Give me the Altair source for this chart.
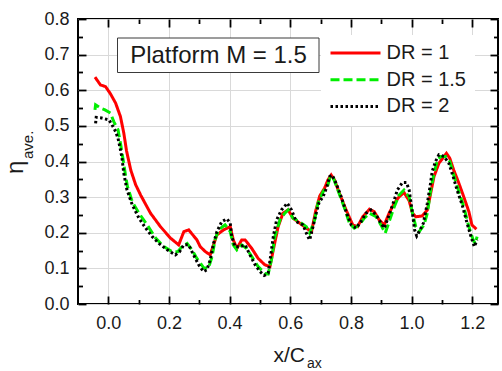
import altair as alt
import pandas as pd

# Area-averaged film cooling effectiveness along the platform, three density ratios
series_names = ["DR = 1", "DR = 1.5", "DR = 2"]
series_colors = ["#ff0000", "#00ee00", "#000000"]
series_dashes = [[1, 0], [9, 4], [2.5, 2.5]]

dr1_x = [-0.044, -0.026, -0.009, 0.007, 0.024, 0.040, 0.051, 0.060, 0.074, 0.090,
         0.107, 0.139, 0.172, 0.205, 0.232, 0.249, 0.265, 0.292, 0.303, 0.320,
         0.336, 0.358, 0.380, 0.402, 0.412, 0.424, 0.440, 0.451, 0.473, 0.494,
         0.516, 0.533, 0.544, 0.560, 0.576, 0.593, 0.609, 0.631, 0.653, 0.670,
         0.684, 0.697, 0.713, 0.724, 0.735, 0.746, 0.762, 0.784, 0.806, 0.822,
         0.839, 0.861, 0.877, 0.893, 0.910, 0.926, 0.943, 0.959, 0.975, 0.992,
         1.003, 1.014, 1.035, 1.052, 1.063, 1.074, 1.090, 1.107, 1.115, 1.126,
         1.139, 1.156, 1.172, 1.189, 1.199, 1.214]
dr1_y = [0.637, 0.615, 0.610, 0.590, 0.564, 0.526, 0.480, 0.430, 0.376, 0.335,
         0.305, 0.255, 0.217, 0.185, 0.166, 0.203, 0.208, 0.180, 0.161, 0.147,
         0.138, 0.194, 0.208, 0.217, 0.180, 0.156, 0.180, 0.180, 0.156, 0.128,
         0.110, 0.105, 0.152, 0.217, 0.255, 0.264, 0.241, 0.227, 0.213, 0.203,
         0.262, 0.303, 0.325, 0.348, 0.362, 0.348, 0.311, 0.264, 0.222, 0.217,
         0.245, 0.266, 0.259, 0.236, 0.222, 0.255, 0.283, 0.301, 0.313, 0.290,
         0.255, 0.245, 0.247, 0.264, 0.311, 0.358, 0.395, 0.414, 0.423, 0.409,
         0.376, 0.339, 0.301, 0.259, 0.222, 0.210]

dr15_x = [-0.044, -0.042, -0.026, -0.011, 0.007, 0.018, 0.032, 0.040, 0.049, 0.056,
          0.063, 0.079, 0.101, 0.128, 0.156, 0.183, 0.210, 0.229, 0.243, 0.260,
          0.276, 0.292, 0.314, 0.330, 0.342, 0.352, 0.363, 0.385, 0.402, 0.412,
          0.424, 0.440, 0.456, 0.473, 0.494, 0.516, 0.527, 0.538, 0.549, 0.566,
          0.582, 0.593, 0.609, 0.631, 0.653, 0.664, 0.680, 0.691, 0.708, 0.724,
          0.732, 0.740, 0.757, 0.779, 0.795, 0.811, 0.828, 0.844, 0.861, 0.883,
          0.899, 0.913, 0.926, 0.943, 0.959, 0.975, 0.992, 1.003, 1.014, 1.025,
          1.041, 1.052, 1.063, 1.074, 1.085, 1.096, 1.112, 1.126, 1.139, 1.156,
          1.172, 1.189, 1.203, 1.210, 1.216]
dr15_y = [0.545, 0.559, 0.550, 0.545, 0.536, 0.512, 0.489, 0.451, 0.404, 0.365,
          0.330, 0.287, 0.255, 0.222, 0.185, 0.161, 0.147, 0.147, 0.161, 0.170,
          0.152, 0.128, 0.102, 0.100, 0.133, 0.180, 0.208, 0.222, 0.203, 0.166,
          0.152, 0.166, 0.156, 0.133, 0.105, 0.086, 0.084, 0.124, 0.189, 0.236,
          0.255, 0.264, 0.241, 0.231, 0.217, 0.199, 0.235, 0.282, 0.315, 0.334,
          0.358, 0.358, 0.320, 0.269, 0.227, 0.213, 0.222, 0.241, 0.255, 0.245,
          0.222, 0.199, 0.231, 0.273, 0.306, 0.320, 0.300, 0.255, 0.217, 0.203,
          0.222, 0.255, 0.320, 0.367, 0.404, 0.414, 0.414, 0.400, 0.362, 0.315,
          0.273, 0.217, 0.180, 0.170, 0.189]

dr2_x = [-0.042, -0.040, -0.022, 0.002, 0.012, 0.024, 0.032, 0.040, 0.045, 0.051,
         0.061, 0.079, 0.101, 0.123, 0.145, 0.167, 0.194, 0.221, 0.235, 0.249,
         0.265, 0.281, 0.298, 0.314, 0.325, 0.336, 0.347, 0.358, 0.374, 0.391,
         0.402, 0.407, 0.418, 0.434, 0.451, 0.467, 0.484, 0.500, 0.514, 0.527,
         0.535, 0.544, 0.555, 0.571, 0.590, 0.604, 0.620, 0.642, 0.658, 0.664,
         0.675, 0.684, 0.695, 0.708, 0.719, 0.730, 0.738, 0.751, 0.768, 0.784,
         0.801, 0.817, 0.833, 0.850, 0.866, 0.883, 0.899, 0.910, 0.926, 0.943,
         0.953, 0.970, 0.983, 0.992, 1.003, 1.010, 1.017, 1.028, 1.039, 1.052,
         1.061, 1.068, 1.079, 1.090, 1.107, 1.123, 1.137, 1.150, 1.167, 1.183,
         1.196, 1.207, 1.216]
dr2_y = [0.507, 0.524, 0.522, 0.517, 0.503, 0.484, 0.465, 0.433, 0.410, 0.367,
         0.322, 0.278, 0.241, 0.213, 0.189, 0.170, 0.152, 0.138, 0.147, 0.166,
         0.166, 0.138, 0.110, 0.091, 0.096, 0.124, 0.170, 0.203, 0.231, 0.239,
         0.227, 0.189, 0.161, 0.161, 0.166, 0.138, 0.110, 0.091, 0.080, 0.086,
         0.133, 0.189, 0.236, 0.264, 0.283, 0.264, 0.231, 0.222, 0.189, 0.180,
         0.217, 0.250, 0.285, 0.301, 0.325, 0.358, 0.362, 0.339, 0.301, 0.259,
         0.222, 0.213, 0.231, 0.255, 0.264, 0.250, 0.227, 0.213, 0.250, 0.292,
         0.320, 0.341, 0.341, 0.320, 0.255, 0.208, 0.191, 0.208, 0.227, 0.283,
         0.330, 0.372, 0.400, 0.419, 0.414, 0.395, 0.358, 0.320, 0.278, 0.227,
         0.189, 0.161, 0.180]

x_major = [0.0, 0.2, 0.4, 0.6, 0.8, 1.0, 1.2]
x_minor = [0.1, 0.3, 0.5, 0.7, 0.9, 1.1]
y_major = [0.0, 0.1, 0.2, 0.3, 0.4, 0.5, 0.6, 0.7, 0.8]
y_minor = [0.05, 0.15, 0.25, 0.35, 0.45, 0.55, 0.65, 0.75]

rows = []
for name, xs, ys in zip(series_names, [dr1_x, dr15_x, dr2_x], [dr1_y, dr15_y, dr2_y]):
    for i, (a, b) in enumerate(zip(xs, ys)):
        rows.append({"series": name, "x": a, "eta": b, "order": i})
df = pd.DataFrame(rows)

W, H = 420, 285
FONT = "Liberation Sans"
INK = "#1a1a1a"

x_scale = alt.Scale(domain=[-0.1, 1.285], nice=False, zero=False)
y_scale = alt.Scale(domain=[0.0, 0.8], nice=False, zero=False)


def tick_axis(orient, offset, values, size):
    # ticks only, shifted across the plot so they point inward
    return alt.Axis(orient=orient, offset=offset, values=values, ticks=True,
                    tickSize=size, tickWidth=1.8, tickColor="black",
                    labels=False, domain=False, grid=False, title=None)


def tick_layer(x_axis, y_axis):
    return alt.Chart(df).mark_point(opacity=0, size=1).encode(
        x=alt.X("x:Q", scale=x_scale, axis=x_axis),
        y=alt.Y("eta:Q", scale=y_scale, axis=y_axis),
    )


legend = alt.Legend(orient="none", legendX=243, legendY=16, title=None,
                    symbolType="stroke", symbolSize=2500, symbolStrokeWidth=3,
                    clipHeight=20, rowPadding=6.7, padding=8, labelOffset=4.5,
                    labelFont=FONT, labelFontSize=20, labelColor=INK,
                    fillColor="white", strokeColor="white")

lines = alt.Chart(df).mark_line(strokeWidth=3).encode(
    x=alt.X("x:Q", scale=x_scale,
            axis=alt.Axis(values=x_major, format=".1f", grid=True, ticks=False,
                          tickSize=0, domain=False, labelPadding=10, title=None)),
    y=alt.Y("eta:Q", scale=y_scale,
            axis=alt.Axis(values=y_major, format=".1f", grid=True, ticks=False,
                          tickSize=0, domain=False, labelPadding=9, title=None)),
    color=alt.Color("series:N", scale=alt.Scale(domain=series_names, range=series_colors),
                    legend=legend),
    strokeDash=alt.StrokeDash("series:N",
                              scale=alt.Scale(domain=series_names, range=series_dashes),
                              legend=legend),
    order="order:Q",
)

ticks_bottom_left_major = tick_layer(tick_axis("top", -H, x_major, 8),
                                     tick_axis("right", -W, y_major, 8))
ticks_bottom_left_minor = tick_layer(tick_axis("top", -H, x_minor, 4.5),
                                     tick_axis("right", -W, y_minor, 4.5))
ticks_top_right_major = tick_layer(tick_axis("bottom", -H, x_major, 8),
                                   tick_axis("left", -W, y_major, 8))
ticks_top_right_minor = tick_layer(tick_axis("bottom", -H, x_minor, 4.5),
                                   tick_axis("left", -W, y_minor, 4.5))

note = alt.Data(values=[{"label": "Platform M = 1.5"}])
note_box = alt.Chart(note).mark_rect(fill="white", stroke="#3a3a3a", strokeWidth=1).encode(
    x=alt.value(39.5), x2=alt.value(241), y=alt.value(19), y2=alt.value(53.5)
)
note_text = alt.Chart(note).mark_text(font=FONT, fontSize=24, color=INK,
                                      align="center", baseline="middle").encode(
    x=alt.value(140.5), y=alt.value(36.5), text="label:N"
)

titles = alt.Data(values=[{"main": "x/C", "sub": "ax", "ymain": "\u03b7", "ysub": "ave."}])
x_title = alt.Chart(titles).mark_text(font=FONT, fontSize=21, color=INK,
                                      align="left", baseline="alphabetic").encode(
    x=alt.value(195.5), y=alt.value(342.7), text="main:N")
x_title_sub = alt.Chart(titles).mark_text(font=FONT, fontSize=14, color=INK,
                                          align="left", baseline="alphabetic").encode(
    x=alt.value(229), y=alt.value(349.3), text="sub:N")
y_title = alt.Chart(titles).mark_text(font=FONT, fontSize=24, color=INK, angle=270,
                                      align="left", baseline="alphabetic").encode(
    x=alt.value(-55), y=alt.value(155), text="ymain:N")
y_title_sub = alt.Chart(titles).mark_text(font=FONT, fontSize=15, color=INK, angle=270,
                                          align="left", baseline="alphabetic").encode(
    x=alt.value(-45), y=alt.value(140), text="ysub:N")

chart = alt.layer(
    lines,
    ticks_bottom_left_major,
    ticks_bottom_left_minor,
    ticks_top_right_major,
    ticks_top_right_minor,
    note_box,
    note_text,
    x_title,
    x_title_sub,
    y_title,
    y_title_sub,
).resolve_axis(
    x="independent", y="independent"
).properties(
    width=W, height=H,
    padding={"left": 78, "top": 19, "right": 4, "bottom": 67},
    autosize=alt.AutoSizeParams(type="none"),
).configure_view(
    stroke="black", strokeWidth=2
).configure_axis(
    labelFont=FONT, labelFontSize=18, labelColor=INK,
    gridColor="#d9d9d9", gridWidth=1, gridOpacity=1,
)

chart.save("out.html", embed_options={"renderer": "svg", "actions": False})
